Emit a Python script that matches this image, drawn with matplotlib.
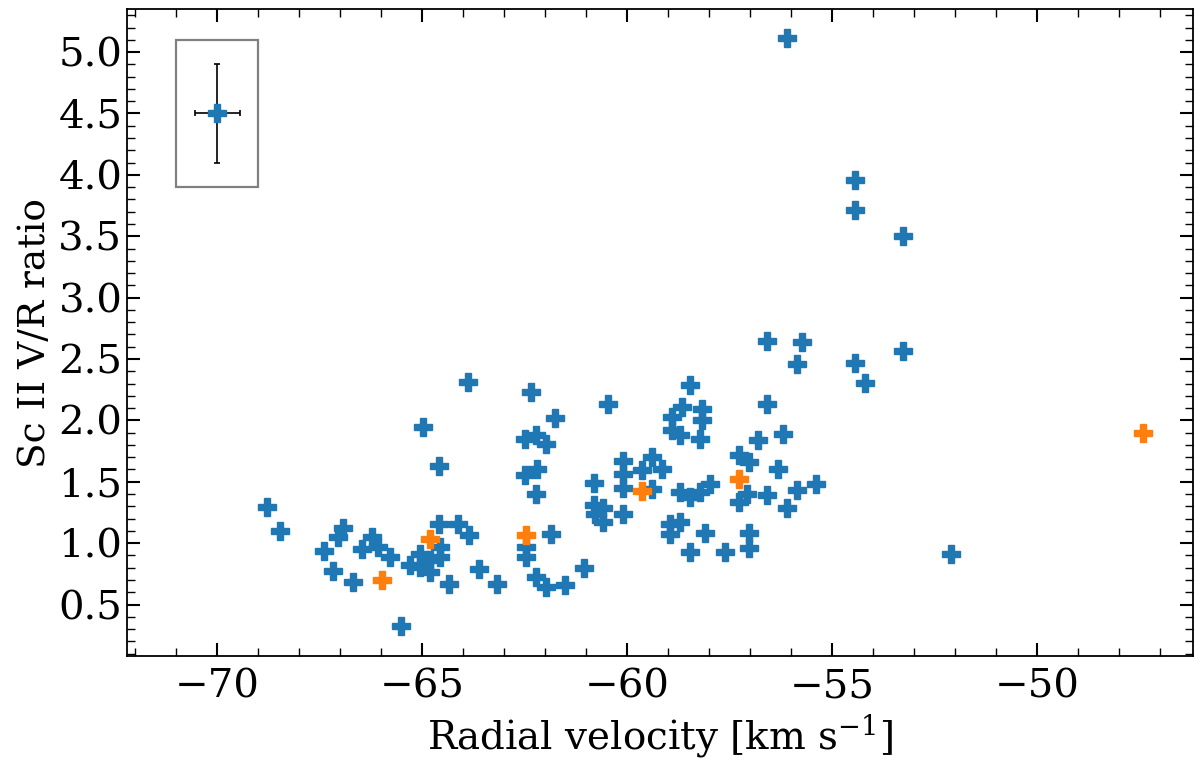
import matplotlib
matplotlib.use("Agg")
import matplotlib.pyplot as plt
from matplotlib.patches import Rectangle
from matplotlib.ticker import MultipleLocator

# Blue series (radial velocity, V/R ratio)
blue_rv = [-68.78, -68.48, -67.41, -67.18, -66.70, -66.94, -67.05, -66.23, -66.46, -66.07,
           -65.78, -65.52, -65.30, -65.05, -65.05, -64.81, -64.81, -64.56, -64.56, -64.59,
           -64.12, -63.87, -64.34, -63.61, -64.99, -64.59, -63.88, -62.34, -61.76, -60.46,
           -62.49, -62.22, -61.98, -62.49, -62.20, -62.22, -60.82, -60.10, -60.10, -60.10,
           -60.10, -60.82, -60.58, -60.58, -60.78, -61.86, -62.47, -62.47, -63.18, -62.22,
           -61.98, -61.51, -61.05, -58.46, -58.91, -58.66, -58.18, -58.18, -58.91, -58.71,
           -58.22, -59.40, -59.15, -59.64, -59.40, -58.71, -58.46, -58.22, -57.97, -58.95,
           -58.71, -58.95, -58.10, -58.46, -57.61, -57.28, -57.04, -57.08, -57.28, -56.59,
           -55.86, -55.39, -56.10, -57.04, -57.04, -56.33, -56.81, -56.21, -56.58, -56.58,
           -55.74, -55.86, -54.45, -54.21, -53.27, -56.10, -54.45, -54.45, -53.27, -52.09]
blue_vr = [1.295, 1.10, 0.94, 0.77, 0.684, 1.12, 1.05, 1.05, 0.956, 0.97,
           0.888, 0.323, 0.82, 0.915, 0.806, 0.766, 0.86, 0.97, 0.888, 1.16,
           1.16, 1.064, 0.671, 0.787, 1.946, 1.626, 2.313, 2.231, 2.02, 2.137,
           1.852, 1.879, 1.805, 1.553, 1.608, 1.398, 1.494, 1.669, 1.561, 1.447,
           1.241, 1.309, 1.29, 1.173, 1.241, 1.078, 0.969, 0.888, 0.671, 0.725,
           0.643, 0.657, 0.80, 2.286, 2.028, 2.109, 2.096, 2.001, 1.919, 1.879,
           1.852, 1.702, 1.608, 1.594, 1.445, 1.417, 1.376, 1.417, 1.485, 1.16,
           1.173, 1.078, 1.083, 0.928, 0.928, 1.716, 1.661, 1.404, 1.336, 1.39,
           1.431, 1.485, 1.287, 1.086, 0.961, 1.602, 1.844, 1.893, 2.137, 2.647,
           2.638, 2.463, 2.471, 2.308, 2.563, 5.117, 3.955, 3.71, 3.499, 0.909]

# Orange series
orange_rv = [-65.99, -64.82, -62.47, -59.64, -57.28, -47.41]
orange_vr = [0.698, 1.037, 1.064, 1.427, 1.524, 1.895]

# Typical error bar shown in the inset
err_rv, err_vr = -70.0, 4.5
err_x, err_y = 0.55, 0.4

plt.rcParams['font.family'] = ['DejaVu Serif']
plt.rcParams['mathtext.fontset'] = 'dejavuserif'

fig = plt.figure(figsize=(12, 7.62), dpi=100)
ax = fig.add_axes([0.106, 0.139, 0.888, 0.849])

ms = 13
ax.plot(blue_rv, blue_vr, ls='none', marker='P', ms=ms, color='#1f77b4', mew=1)
ax.plot(orange_rv, orange_vr, ls='none', marker='P', ms=ms, color='#ff7f0e', mew=1)

ax.errorbar([err_rv], [err_vr], xerr=[err_x], yerr=[err_y], fmt='P', ms=ms,
            color='#1f77b4', ecolor='black', elinewidth=1.2, capsize=2.5, capthick=1.2)
ax.add_patch(Rectangle((-71.0, 3.9), 2.0, 1.2, fill=False, edgecolor='gray', lw=1.6))

ax.set_xlim(-72.2, -46.2)
ax.set_ylim(0.08, 5.35)

ax.xaxis.set_major_locator(MultipleLocator(5))
ax.xaxis.set_minor_locator(MultipleLocator(1))
ax.yaxis.set_major_locator(MultipleLocator(0.5))
ax.yaxis.set_minor_locator(MultipleLocator(0.1))

ax.tick_params(which='both', direction='in', top=True, right=True, labelsize=29)
ax.tick_params(which='major', length=9.5, width=1.5)
ax.tick_params(which='minor', length=5.5, width=1.0)
ax.tick_params(axis='x', which='major', pad=9)
for s in ax.spines.values():
    s.set_linewidth(1.3)

ax.set_xlabel(r'Radial velocity [km s$^{-1}$]', fontsize=28, labelpad=5)
ax.set_ylabel('Sc II V/R ratio', fontsize=27, labelpad=4)

fig.savefig('out.png', dpi=100)
